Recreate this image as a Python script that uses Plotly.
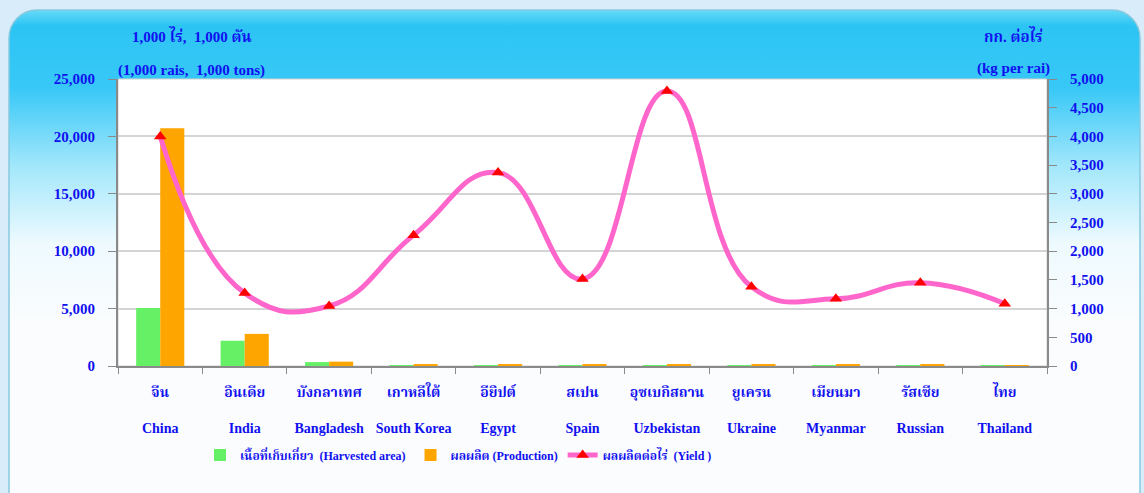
import base64
import plotly.graph_objects as go

# ---------------- data ----------------
countries_th = ["จีน", "อินเดีย", "บังกลาเทศ", "เกาหลีใต้", "อียิปต์", "สเปน",
                "อุซเบกิสถาน", "ยูเครน", "เมียนมา", "รัสเซีย", "ไทย"]
countries_en = ["China", "India", "Bangladesh", "South Korea", "Egypt", "Spain",
                "Uzbekistan", "Ukraine", "Myanmar", "Russian", "Thailand"]
harvested = [5050, 2200, 340, 60, 40, 45, 30, 40, 60, 50, 10]        # 1,000 rai
production = [20700, 2800, 380, 160, 150, 140, 100, 100, 110, 120, 20]  # 1,000 tons
yield_kg = [4000, 1270, 1045, 2280, 3370, 1515, 4790, 1380, 1170, 1450, 1085]  # kg/rai

left_ticks = [0, 5000, 10000, 15000, 20000, 25000]
right_ticks = list(range(0, 5001, 500))

legend_names = ["เนื้อที่เก็บเกี่ยว  (Harvested area)",
                "ผลผลิต (Production)",
                "ผลผลิตต่อไร่  (Yield )"]

# ---------------- style ----------------
BLUE = "#1010f0"
FONT = "Liberation Serif, Times New Roman, Noto Serif Thai, Noto Sans Thai, serif"
W, H = 1144, 493
L, R, T, B = 118, 97, 79, 127
PH = H - T - B
PW = W - L - R

svg = f'''<svg xmlns="http://www.w3.org/2000/svg" width="{W}" height="{H}" viewBox="0 0 {W} {H}" preserveAspectRatio="none">
<defs><linearGradient id="g" x1="0" y1="0" x2="0" y2="1">
<stop offset="0" stop-color="#66daf7"/>
<stop offset="0.03" stop-color="#2cc4f4"/>
<stop offset="0.15" stop-color="#38c8f7"/>
<stop offset="0.3" stop-color="#a2e7fb"/>
<stop offset="0.45" stop-color="#eefafe"/>
<stop offset="0.6" stop-color="#fafcfd"/>
<stop offset="1" stop-color="#fbfcfd"/>
</linearGradient></defs>
<rect width="{W}" height="{H}" fill="#d8edf9"/>
<rect x="9" y="10" width="1131" height="520" rx="28" ry="28" fill="url(#g)" stroke="#86c9df" stroke-width="1.5"/>
</svg>'''
src = "data:image/svg+xml;base64," + base64.b64encode(svg.encode()).decode()

ticktext = [f"{th}<br> <br>{en}" for th, en in zip(countries_th, countries_en)]

fig = go.Figure()
fig.add_trace(go.Bar(x=countries_en, y=harvested, name=legend_names[0],
                     marker=dict(color="#66f066", line=dict(width=0))))
fig.add_trace(go.Bar(x=countries_en, y=production, name=legend_names[1],
                     marker=dict(color="#ffa500", line=dict(width=0))))
fig.add_trace(go.Scatter(x=countries_en, y=yield_kg, name=legend_names[2], yaxis="y2",
                         mode="lines+markers",
                         line=dict(color="#ff66cc", width=5, shape="spline", smoothing=1.3),
                         marker=dict(symbol="triangle-up", size=11, color="#ff0000")))

tick_font = dict(family=FONT, size=15, color=BLUE, weight="bold")
x_font = dict(family=FONT, size=14, color=BLUE, weight="bold")

fig.update_layout(
    width=W, height=H,
    margin=dict(l=L, r=R, t=T, b=B, autoexpand=False),
    paper_bgcolor="#d8edf9",
    plot_bgcolor="white",
    barmode="group", bargap=0.43, bargroupgap=0,
    font=x_font,
    showlegend=True,
    legend=dict(orientation="h", x=(200 - L) / PW, xanchor="left",
                y=(H - B - 455) / PH, yanchor="middle",
                font=dict(family=FONT, size=12, color=BLUE, weight="bold"),
                bgcolor="rgba(0,0,0,0)"),
    xaxis=dict(type="category", tickvals=countries_en, ticktext=ticktext,
               tickson="boundaries", ticks="outside", ticklen=6, tickcolor="#8a8a8a",
               showline=True, linecolor="#8a8a8a", linewidth=2, showgrid=False,
               tickfont=x_font, range=[-0.5, 10.5], ticklabelstandoff=12,
               tickangle=0, automargin=False),
    yaxis=dict(range=[0, 25000], tickvals=left_ticks, tickformat=",",
               ticks="outside", ticklen=8, tickcolor="#8a8a8a",
               showline=True, linecolor="#8a8a8a", linewidth=2,
               showgrid=True, gridcolor="#d4d4d4", gridwidth=1.5, zeroline=False,
               tickfont=tick_font, ticklabelstandoff=10, automargin=False),
    yaxis2=dict(range=[0, 5000], tickvals=right_ticks, tickformat=",",
                overlaying="y", side="right",
                ticks="outside", ticklen=8, tickcolor="#8a8a8a",
                showline=True, linecolor="#8a8a8a", linewidth=2,
                showgrid=False, zeroline=False,
                tickfont=tick_font, ticklabelstandoff=10, automargin=False),
    images=[dict(source=src, xref="paper", yref="paper",
                 x=-L / PW, y=(H - B) / PH, sizex=W / PW, sizey=H / PH,
                 xanchor="left", yanchor="top", sizing="stretch", layer="below")],
    shapes=[dict(type="rect", xref="paper", yref="paper", x0=0, x1=1, y0=0, y1=1,
                 fillcolor="white", line=dict(color="#cfcfcf", width=1), layer="below")],
)

def ann(text, px, py, size=15):
    fig.add_annotation(text=text, xref="paper", yref="paper",
                       x=(px - L) / PW, y=(H - B - py) / PH,
                       xanchor="center", yanchor="middle", showarrow=False,
                       font=dict(family=FONT, size=size, color=BLUE, weight="bold"))

ann("1,000 ไร่,  1,000 ตัน", 191, 36)
ann("(1,000 rais,  1,000 tons)", 191, 70)
ann("กก. ต่อไร่", 1013, 36)
ann("(kg per rai)", 1013, 68)

fig.write_html("out.html", config={"displayModeBar": False},
               post_script="document.body.style.margin='0';document.body.style.background='#d8edf9';")
